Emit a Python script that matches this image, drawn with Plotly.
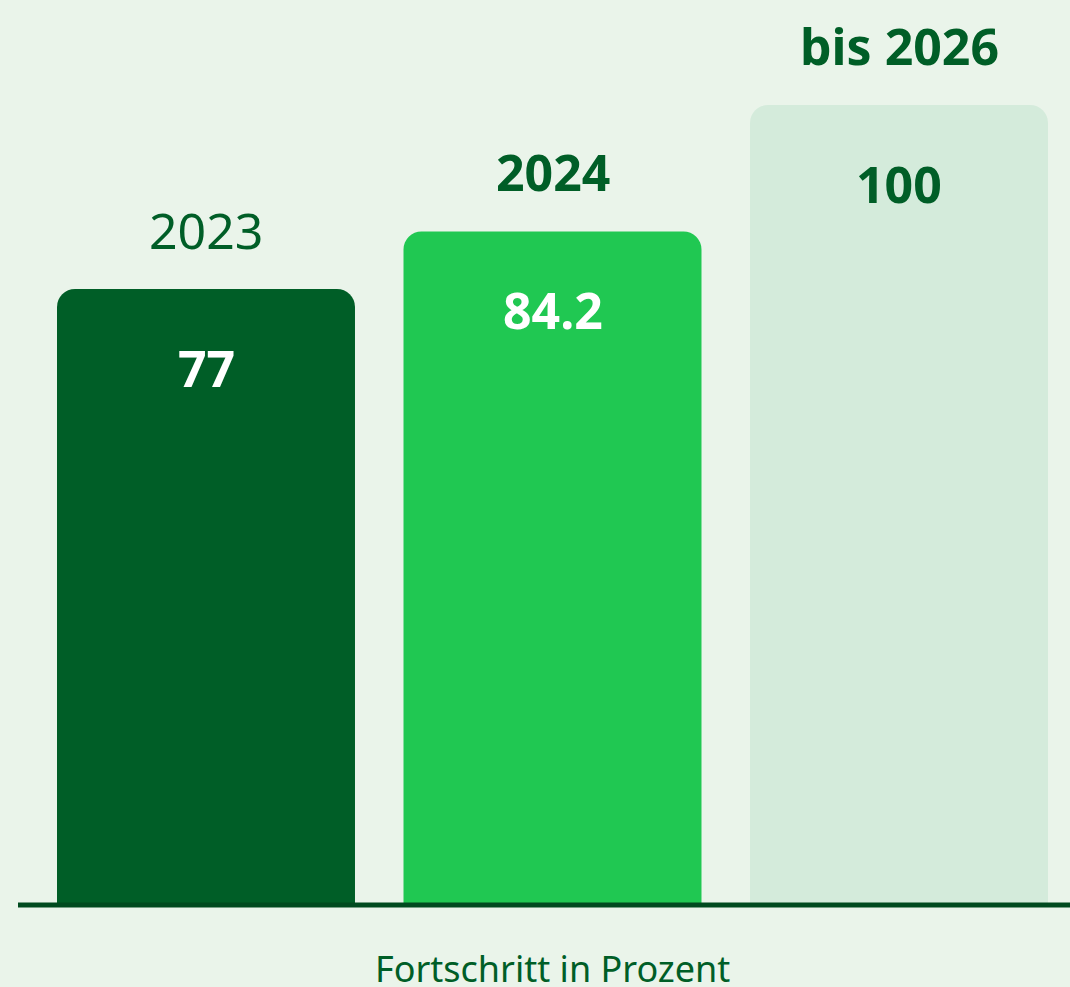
import plotly.graph_objects as go

categories = ["2023", "2024", "bis 2026"]
values = [77, 84.2, 100]
value_labels = ["77", "84.2", "100"]
bar_colors = ["#005E27", "#20C852", "#D4EBDB"]
value_text_colors = ["#FFFFFF", "#FFFFFF", "#005E27"]
category_bold = [False, True, True]
axis_title = "Fortschritt in Prozent"

BG = "#EAF4EA"
DARK = "#005E27"
FONT = "Noto Sans"

xs = list(range(len(categories)))

fig = go.Figure()
fig.add_trace(go.Bar(
    x=xs, y=values, width=0.86,
    marker=dict(color=bar_colors, line=dict(width=0)),
    hoverinfo="skip",
))

for x, v, cat, bold, lab, tc in zip(xs, values, categories, category_bold, value_labels, value_text_colors):
    fig.add_annotation(
        x=x, y=v, xref="x", yref="y",
        text=f"<b>{cat}</b>" if bold else cat,
        showarrow=False, yanchor="middle", yshift=59,
        font=dict(family=FONT, size=50, color=DARK),
    )
    fig.add_annotation(
        x=x, y=v, xref="x", yref="y",
        text=f"<b>{lab}</b>",
        showarrow=False, yanchor="middle", yshift=-79,
        font=dict(family=FONT, size=50, color=tc),
    )

fig.add_annotation(
    x=1, y=0, xref="x", yref="y",
    text=axis_title, showarrow=False, yanchor="middle", yshift=-63,
    font=dict(family=FONT, size=36, color=DARK),
)

fig.add_shape(
    type="line", xref="paper", yref="paper",
    x0=18 / 1070, x1=1, y0=0, y1=0,
    line=dict(color="#004A1F", width=5), layer="above",
)

fig.update_layout(
    width=1070, height=987,
    margin=dict(l=0, r=0, t=0, b=82, pad=0),
    paper_bgcolor=BG, plot_bgcolor=BG,
    barcornerradius=18,
    showlegend=False,
    xaxis=dict(visible=False, range=[-0.5945, 2.4935], fixedrange=True),
    yaxis=dict(visible=False, range=[0, 113.125], fixedrange=True),
)

fig.write_html("out.html", config={"displayModeBar": False})

with open("out.html", encoding="utf-8") as f:
    html = f.read()
html = html.replace("<body>", '<body style="margin:0;padding:0;overflow:hidden;background:%s">' % BG, 1)
with open("out.html", "w", encoding="utf-8") as f:
    f.write(html)
